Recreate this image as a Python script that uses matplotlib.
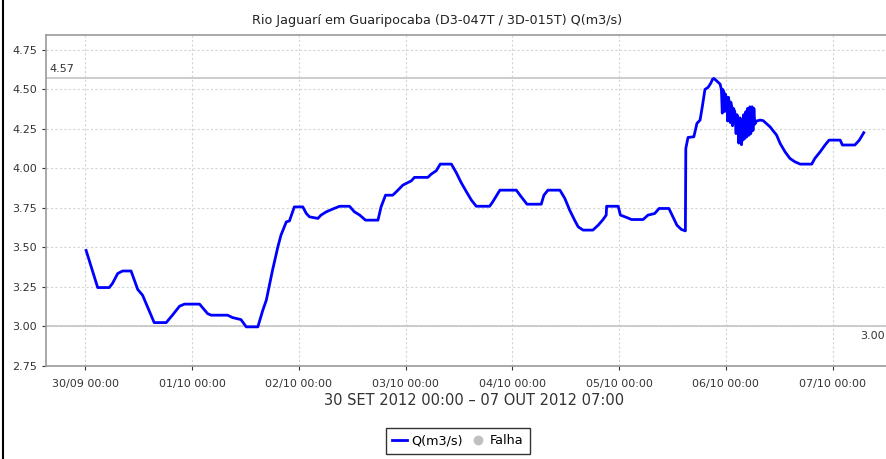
import datetime as dt
import matplotlib
matplotlib.use("Agg")
import matplotlib.pyplot as plt
import matplotlib.dates as mdates
from matplotlib.lines import Line2D

# hours since 30/09/2012 00:00 and flow Q (m3/s)
hours = [0.2, 2.8, 5.4, 6.1, 7.3, 8.4, 10.3, 11.8, 12.9, 15.5, 18.2, 19.6, 21.2, 22.3,
         25.7, 27.5, 28.3, 32.0, 33.1, 35.0, 36.2, 38.8, 39.9, 40.7, 42.1, 43.3, 44.0,
         45.2, 45.9, 47.0, 48.9, 49.7, 50.4, 52.3, 53.0, 54.2, 55.6, 57.2, 59.4, 60.5,
         61.7, 63.0, 65.8, 66.5, 67.5, 69.1, 69.9, 71.4, 73.3, 74.0, 77.0, 77.8, 78.9,
         79.8, 82.3, 83.4, 84.5, 85.7, 86.8, 87.9, 90.9, 91.6, 93.2, 96.9, 98.0, 99.3,
         102.5, 103.1, 104.0, 106.7, 107.8, 108.9, 110.0, 110.8, 111.9, 114.1, 115.3,
         116.4, 117.1, 117.2, 119.8, 120.3, 121.7, 122.8, 125.4, 126.5, 128.0, 129.0,
         131.2, 132.1, 133.0, 134.0, 134.9, 135.0, 135.5, 136.8, 137.5, 138.2, 138.7,
         139.3, 140.0, 140.6, 141.0, 141.3, 141.9, 142.7,
         143.0, 143.2, 143.3, 143.6, 143.7, 143.9, 144.2, 144.4, 144.6, 144.8, 145.0,
         145.1, 145.4, 145.5, 145.7, 146.0, 146.3, 146.5, 146.7, 146.9, 147.2, 147.4,
         147.5, 147.7, 147.9, 148.0, 148.3, 148.5, 148.7, 148.9, 149.2, 149.4, 149.6,
         149.9, 150.1, 150.3, 150.5, 150.9,
         151.7, 152.4, 153.9, 155.4, 156.2, 157.3, 158.4, 159.5, 160.7, 163.3, 164.0,
         165.2, 166.3, 167.2, 169.7, 170.2, 173.0, 174.0, 175.0]
flow = [3.48, 3.245, 3.245, 3.27, 3.334, 3.35, 3.35, 3.233, 3.196, 3.023, 3.023, 3.07,
        3.127, 3.14, 3.14, 3.08, 3.07, 3.07, 3.055, 3.042, 2.996, 2.996, 3.10, 3.165,
        3.355, 3.503, 3.577, 3.661, 3.667, 3.756, 3.756, 3.714, 3.693, 3.683, 3.704,
        3.725, 3.742, 3.76, 3.76, 3.725, 3.704, 3.672, 3.672, 3.756, 3.83, 3.83, 3.851,
        3.894, 3.921, 3.943, 3.943, 3.964, 3.985, 4.027, 4.027, 3.973, 3.91, 3.851,
        3.799, 3.76, 3.76, 3.788, 3.862, 3.862, 3.82, 3.773, 3.773, 3.83, 3.862, 3.862,
        3.81, 3.735, 3.672, 3.63, 3.609, 3.609, 3.64, 3.676, 3.704, 3.76, 3.76, 3.704,
        3.689, 3.676, 3.676, 3.704, 3.714, 3.746, 3.746, 3.693, 3.64, 3.613, 3.604,
        4.127, 4.196, 4.2, 4.285, 4.306, 4.39, 4.5, 4.513, 4.539, 4.564, 4.57, 4.555,
        4.534,
        4.50, 4.35, 4.50, 4.48, 4.36, 4.47, 4.44, 4.30, 4.45, 4.40, 4.29, 4.42, 4.38,
        4.27, 4.38, 4.36, 4.22, 4.34, 4.32, 4.16, 4.32, 4.28, 4.15, 4.30, 4.18, 4.34,
        4.19, 4.36, 4.20, 4.38, 4.21, 4.39, 4.22, 4.39, 4.24, 4.38, 4.28, 4.30,
        4.306, 4.302, 4.264, 4.211, 4.158, 4.105, 4.063, 4.042, 4.027, 4.027, 4.063,
        4.105, 4.148, 4.179, 4.179, 4.148, 4.148, 4.179, 4.226]

start = dt.datetime(2012, 9, 30)
times = [start + dt.timedelta(hours=h) for h in hours]

max_val = 4.57
min_mark = 3.00
yticks = [2.75, 3.00, 3.25, 3.50, 3.75, 4.00, 4.25, 4.50, 4.75]

fig = plt.figure(figsize=(8.87, 4.59), dpi=100)
ax = fig.add_axes([0.0522, 0.2026, 0.9655, 0.7205])

ax.plot(times, flow, color="#0000ff", lw=2.0, solid_joinstyle="round")

# marker lines
ax.axhline(max_val, color="#c4c4c4", lw=1.2, zorder=1)
ax.axhline(min_mark, color="#c4c4c4", lw=1.2, zorder=1)
ax.text(0.004, max_val + 0.03, f"{max_val:.2f}", transform=ax.get_yaxis_transform(),
        fontsize=8, color="#333333", va="bottom", ha="left")
ax.text(0.9795, min_mark - 0.03, f"{min_mark:.2f}", transform=ax.get_yaxis_transform(),
        fontsize=8, color="#333333", va="top", ha="right")

ax.set_xlim(start - dt.timedelta(hours=8.75), start + dt.timedelta(hours=183.75))
ax.set_ylim(2.748, 4.843)
ax.set_yticks(yticks)
ax.set_yticklabels([f"{v:.2f}" for v in yticks])
ax.xaxis.set_major_locator(mdates.DayLocator())
ax.xaxis.set_major_formatter(mdates.DateFormatter("%d/%m %H:%M"))

ax.grid(True, color="#d4d4d4", lw=0.8, linestyle=(0, (2, 2)))
ax.set_axisbelow(True)
for s in ax.spines.values():
    s.set_color("#9a9a9a")
    s.set_linewidth(1.2)
ax.tick_params(axis="both", labelsize=8, colors="#333333", length=3, width=0.8)
ax.tick_params(axis="x", pad=6)

ax.set_xlabel("30 SET 2012 00:00 – 07 OUT 2012 07:00", fontsize=10.5, color="#333333",
              labelpad=3)
fig.text(0.493, 0.955, "Rio Jaguarí em Guaripocaba (D3-047T / 3D-015T) Q(m3/s)",
         ha="center", va="center", fontsize=9.2, color="#222222")

handles = [Line2D([], [], color="#0000ff", lw=2.0),
           Line2D([], [], marker="o", ls="none", color="#c0c0c0", markersize=6)]
leg = fig.legend(handles, ["Q(m3/s)", "Falha"], loc="upper center",
                 bbox_to_anchor=(0.516, 0.0675), ncol=2, frameon=True, fontsize=9.2,
                 handlelength=1.2, handletextpad=0.3, columnspacing=0.6,
                 borderpad=0.5, borderaxespad=0, fancybox=False)
leg.get_frame().set_edgecolor("black")
leg.get_frame().set_linewidth(1.0)

# left border line of the frame
fig.add_artist(Line2D([0.003, 0.003], [0, 1], transform=fig.transFigure,
                      color="black", lw=1.5))

fig.savefig("out.png", dpi=100)
